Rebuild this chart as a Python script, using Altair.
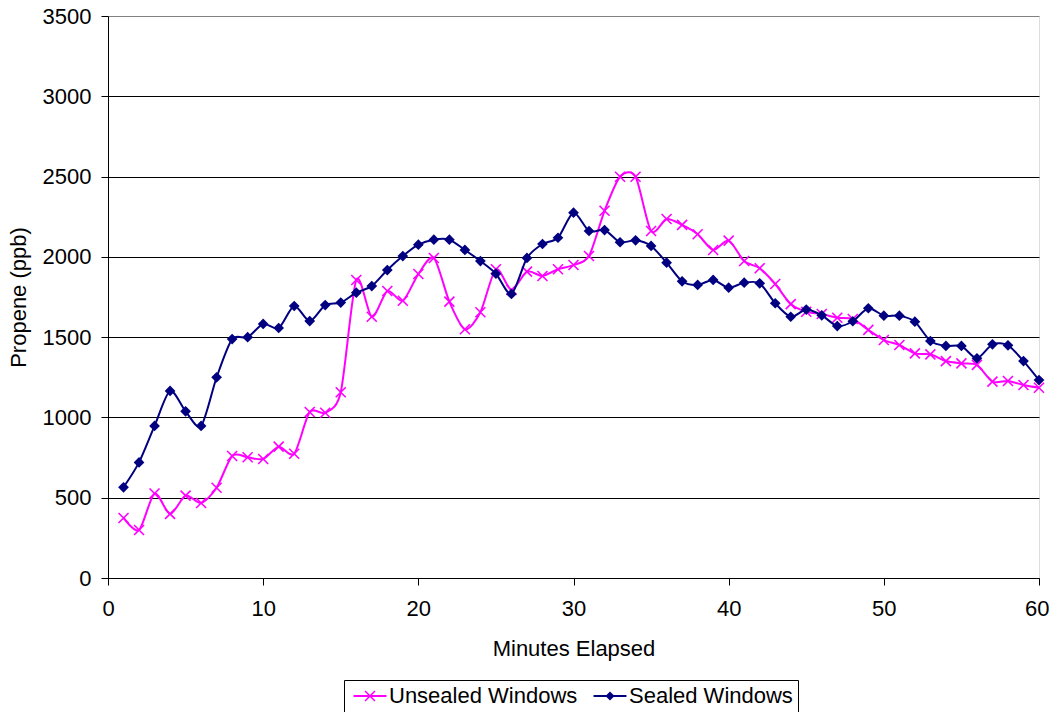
import altair as alt
import pandas as pd

minutes = list(range(1, 61))

unsealed = [374, 299, 526, 399, 513, 467, 562, 760, 752, 741,
            818, 774, 1034, 1029, 1157, 1856, 1627, 1787, 1727, 1893,
            1993, 1721, 1549, 1655, 1923, 1794, 1908, 1881, 1923, 1949,
            2005, 2287, 2499, 2499, 2161, 2236, 2199, 2141, 2043, 2101,
            1974, 1929, 1831, 1706, 1658, 1644, 1621, 1613, 1545, 1482,
            1451, 1399, 1393, 1351, 1337, 1327, 1223, 1227, 1202, 1185]

sealed = [565, 720, 947, 1165, 1038, 947, 1250, 1488, 1500, 1582,
          1557, 1694, 1600, 1700, 1715, 1777, 1818, 1918, 2005, 2076,
          2107, 2107, 2043, 1974, 1895, 1769, 1993, 2080, 2119, 2275,
          2161, 2167, 2091, 2103, 2068, 1964, 1848, 1825, 1856, 1808,
          1839, 1835, 1711, 1627, 1672, 1636, 1569, 1599, 1680, 1634,
          1634, 1596, 1476, 1445, 1445, 1368, 1455, 1449, 1351, 1233]

series_names = ["Unsealed Windows", "Sealed Windows"]
series_colors = ["#FF00FF", "#000080"]
x_ticks = [0, 10, 20, 30, 40, 50, 60]
y_ticks = [0, 500, 1000, 1500, 2000, 2500, 3000, 3500]

df = pd.DataFrame({
    "Minute": minutes + minutes,
    "Propene": unsealed + sealed,
    "Series": [series_names[0]] * len(minutes) + [series_names[1]] * len(minutes),
})

FONT = "Liberation Sans"
FS = 22
X_MARK = "M-1,-1L1,1M-1,1L1,-1"

LEG_UNSEALED = ("M-1.83,-0.11L1.83,-0.11L1.83,0.11L-1.83,0.11Z"
                "M-0.491,-0.609L0.609,0.491L0.491,0.609L-0.609,-0.491Z"
                "M-0.609,0.491L0.491,-0.609L0.609,-0.491L-0.491,0.609Z")
LEG_SEALED = ("M-1.83,-0.11L1.83,-0.11L1.83,0.11L-1.83,0.11Z"
              "M0,-0.5L0.5,0L0,0.5L-0.5,0Z")

x_enc = alt.X(
    "Minute:Q",
    scale=alt.Scale(domain=[0, 60], nice=False, zero=False),
    axis=alt.Axis(
        values=x_ticks, title="Minutes Elapsed", grid=False,
        labelFontSize=FS, titleFontSize=FS, labelFont=FONT, titleFont=FONT,
        titleFontWeight="normal", labelColor="black", titleColor="black",
        domainColor="black", tickColor="black", tickSize=7, labelPadding=13,
        titlePadding=19, labelFlush=False, labelOverlap=False, format="d",
        labelAlign={"condition": {"test": "datum.value >= 60", "value": "right"}, "value": "center"},
        labelOffset={"condition": {"test": "datum.value >= 60", "value": 10}, "value": 0},
    ),
)
y_enc = alt.Y(
    "Propene:Q",
    scale=alt.Scale(domain=[0, 3500], nice=False),
    axis=alt.Axis(
        values=y_ticks, title="Propene (ppb)", grid=True,
        gridColor={"condition": {"test": "datum.value >= 3500", "value": "#808080"}, "value": "#000000"},
        gridWidth=1,
        labelFontSize=FS, titleFontSize=FS, labelFont=FONT, titleFont=FONT,
        titleFontWeight="normal", labelColor="black", titleColor="black",
        domainColor="black", tickColor="black", tickSize=7, labelPadding=10,
        titlePadding=12, labelOverlap=False, format="d",
    ),
)

base = alt.Chart(df)

u_line = base.transform_filter(alt.datum.Series == series_names[0]).mark_line(
    color=series_colors[0], strokeWidth=2, interpolate="cardinal", tension=0.2
).encode(x=x_enc, y=y_enc)
u_pts = base.transform_filter(alt.datum.Series == series_names[0]).mark_point(
    shape=X_MARK, size=100, color=series_colors[0], strokeWidth=1.6, filled=False, opacity=1
).encode(x=x_enc, y=y_enc)

s_line = base.transform_filter(alt.datum.Series == series_names[1]).mark_line(
    color=series_colors[1], strokeWidth=2, interpolate="cardinal", tension=0.2
).encode(x=x_enc, y=y_enc)
s_pts = base.transform_filter(alt.datum.Series == series_names[1]).mark_point(
    shape="diamond", size=115, color=series_colors[1], filled=True, opacity=1
).encode(x=x_enc, y=y_enc)

legend_props = dict(
    title=None, orient="none", legendX=236, legendY=664, direction="horizontal",
    labelFont=FONT, labelFontSize=FS, labelColor="black", labelLimit=400,
    symbolSize=324, symbolStrokeWidth=0, symbolOffset=10, labelOffset=8,
    padding=5, strokeColor="black", columnPadding=11, symbolOpacity=1,
)

legend_layer = base.mark_point(filled=True, opacity=0).encode(
    x=x_enc, y=y_enc,
    color=alt.Color("Series:N", scale=alt.Scale(domain=series_names, range=series_colors),
                    legend=alt.Legend(**legend_props)),
    shape=alt.Shape("Series:N", scale=alt.Scale(domain=series_names, range=[LEG_UNSEALED, LEG_SEALED]),
                    legend=alt.Legend(**legend_props)),
)

chart = alt.layer(u_line, u_pts, s_line, s_pts, legend_layer).properties(
    width=931, height=562,
    autosize=alt.AutoSizeParams(type="none"),
    padding={"left": 100, "top": 8, "right": 10, "bottom": 134},
).configure_view(stroke="#808080", strokeWidth=1).configure(font=FONT, background="white")

chart.save("out.html", embed_options={"renderer": "svg", "actions": False})
